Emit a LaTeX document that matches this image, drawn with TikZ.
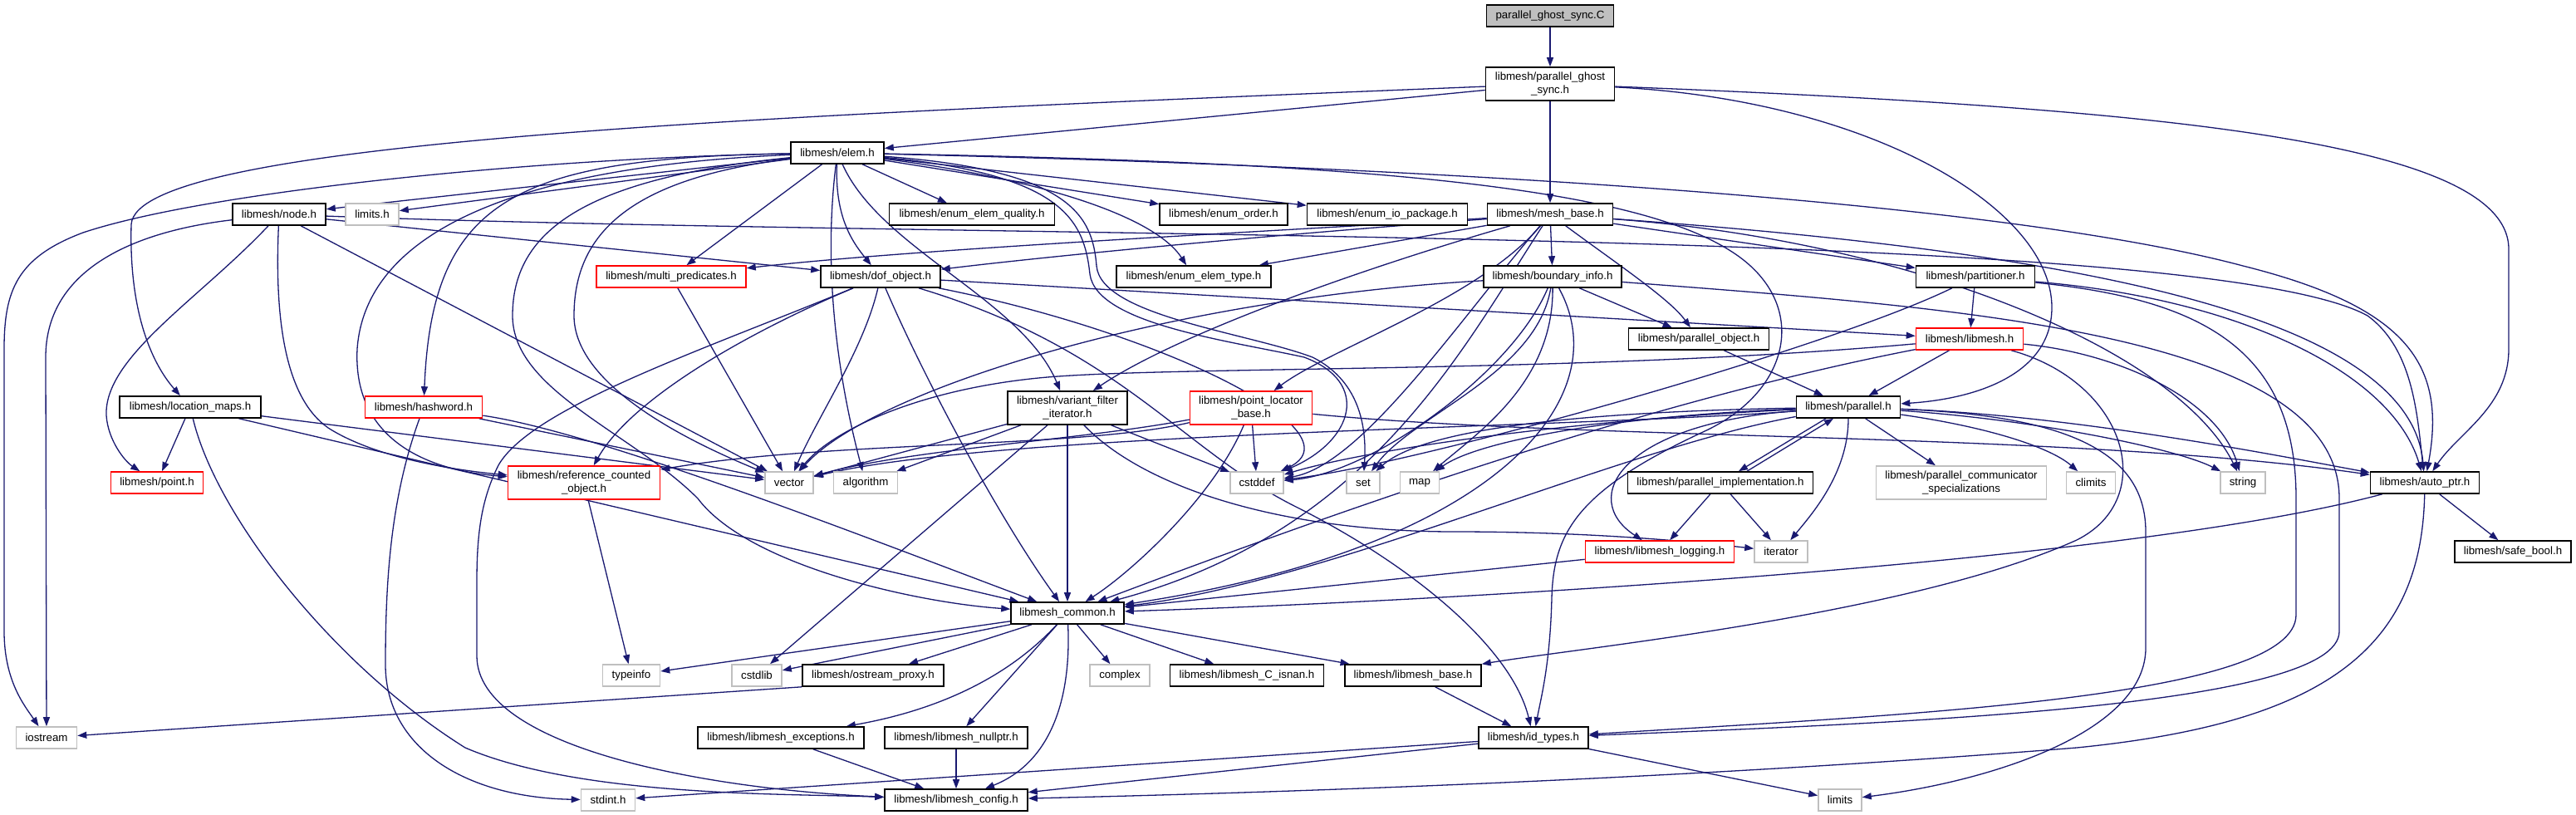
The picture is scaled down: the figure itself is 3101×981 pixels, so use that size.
\documentclass[tikz,border=0pt]{standalone}
\usepackage{fontspec}
\setmainfont{Liberation Sans}
\usetikzlibrary{arrows.meta}
\pgfdeclarelayer{bg}
\pgfsetlayers{bg,main}
\definecolor{edgec}{HTML}{191970}
\definecolor{sysgray}{HTML}{BFBFBF}
\definecolor{rootgray}{HTML}{BFBFBF}
\tikzset{
 nb/.style={draw, line width=1.6pt, fill=white, inner sep=0pt, minimum height=26pt, font=\fontsize{13.3}{15.5}\selectfont, text=black},
 bk/.style={nb, draw=black},
 rd/.style={nb, draw=red},
 gy/.style={nb, draw=sysgray},
 tl/.style={minimum height=40pt, align=center},
 dep/.style={draw=edgec, line width=1.3pt, -{Triangle[length=11pt,width=8pt]}},
}
\begin{document}
\begin{tikzpicture}[x=1pt,y=-1pt]
\useasboundingbox (0,0) rectangle (3101,981);
% nodes
\node[bk, fill=rootgray, minimum width=153pt] (root) at (1866,19) {parallel\_ghost\_sync.C};
\node[bk, tl, minimum width=155pt] (pgs) at (1866,101) {libmesh/parallel\_ghost\\\_sync.h};
\node[bk, minimum width=112pt] (elem) at (1008,184) {libmesh/elem.h};
\node[bk, minimum width=112pt] (node) at (336,258) {libmesh/node.h};
\node[gy, minimum width=64pt] (limitsh) at (448,258) {limits.h};
\node[bk, minimum width=199pt] (quality) at (1170,258) {libmesh/enum\_elem\_quality.h};
\node[bk, minimum width=154pt] (order) at (1473,258) {libmesh/enum\_order.h};
\node[bk, minimum width=193pt] (iopkg) at (1670,258) {libmesh/enum\_io\_package.h};
\node[bk, minimum width=151pt] (meshbase) at (1866,258) {libmesh/mesh\_base.h};
\node[rd, minimum width=180pt] (multipred) at (808,333) {libmesh/multi\_predicates.h};
\node[bk, minimum width=144pt] (dof) at (1060,333) {libmesh/dof\_object.h};
\node[bk, minimum width=186pt] (elemtype) at (1437,333) {libmesh/enum\_elem\_type.h};
\node[bk, minimum width=166pt] (boundary) at (1869,333) {libmesh/boundary\_info.h};
\node[bk, minimum width=143pt] (partitioner) at (2378,333) {libmesh/partitioner.h};
\node[bk, minimum width=169pt] (parobj) at (2045,408) {libmesh/parallel\_object.h};
\node[rd, minimum width=129pt] (libmeshh) at (2371,408) {libmesh/libmesh.h};
\node[bk, minimum width=170pt] (locmaps) at (229,490) {libmesh/location\_maps.h};
\node[rd, minimum width=141pt] (hashword) at (510,490) {libmesh/hashword.h};
\node[bk, tl, minimum width=144pt] (variant) at (1285,491) {libmesh/variant\_filter\\\_iterator.h};
\node[rd, tl, minimum width=147pt] (ptloc) at (1506,491) {libmesh/point\_locator\\\_base.h};
\node[bk, minimum width=125pt] (parallel) at (2225,490) {libmesh/parallel.h};
\node[rd, minimum width=111pt] (point) at (189,581) {libmesh/point.h};
\node[rd, tl, minimum width=183pt] (refcount) at (703,581) {libmesh/reference\_counted\\\_object.h};
\node[gy, minimum width=58pt] (vector) at (950,581) {vector};
\node[gy, minimum width=77pt] (algorithm) at (1042,581) {algorithm};
\node[gy, minimum width=64pt] (cstddef) at (1513,581) {cstddef};
\node[gy, minimum width=40pt] (set) at (1641,581) {set};
\node[gy, minimum width=47pt] (map) at (1709,581) {map};
\node[bk, minimum width=223pt] (parimpl) at (2071,581) {libmesh/parallel\_implementation.h};
\node[gy, tl, minimum width=205pt] (parcomm) at (2361,581) {libmesh/parallel\_communicator\\\_specializations};
\node[gy, minimum width=59pt] (climits) at (2517,581) {climits};
\node[gy, minimum width=54pt] (string) at (2700,581) {string};
\node[bk, minimum width=131pt] (autoptr) at (2919,581) {libmesh/auto\_ptr.h};
\node[rd, minimum width=179pt] (logging) at (1998,664) {libmesh/libmesh\_logging.h};
\node[gy, minimum width=64pt] (iterator) at (2144,664) {iterator};
\node[bk, minimum width=140pt] (safebool) at (3025,664) {libmesh/safe\_bool.h};
\node[bk, minimum width=136pt] (common) at (1285,738) {libmesh\_common.h};
\node[gy, minimum width=69pt] (typeinfo) at (760,813) {typeinfo};
\node[gy, minimum width=60pt] (cstdlib) at (911,813) {cstdlib};
\node[bk, minimum width=170pt] (ostream) at (1051,813) {libmesh/ostream\_proxy.h};
\node[gy, minimum width=72pt] (complex) at (1348,813) {complex};
\node[bk, minimum width=185pt] (isnan) at (1501,813) {libmesh/libmesh\_C\_isnan.h};
\node[bk, minimum width=164pt] (lmbase) at (1701,813) {libmesh/libmesh\_base.h};
\node[gy, minimum width=73pt] (iostream) at (56,888) {iostream};
\node[bk, minimum width=200pt] (exceptions) at (940,888) {libmesh/libmesh\_exceptions.h};
\node[bk, minimum width=172pt] (nullptr) at (1151,888) {libmesh/libmesh\_nullptr.h};
\node[bk, minimum width=132pt] (idtypes) at (1846,888) {libmesh/id\_types.h};
\node[gy, minimum width=65pt] (stdint) at (732,963) {stdint.h};
\node[bk, minimum width=172pt] (config) at (1151,963) {libmesh/libmesh\_config.h};
\node[gy, minimum width=52pt] (limits) at (2215,963) {limits};

\begin{pgfonlayer}{bg}
\fill[white] (0,0) rectangle (3101,981);
% root and parallel_ghost_sync.h
\draw[dep] (root) -- (pgs);
\draw[dep] (pgs) -- (elem);
\draw[dep] (pgs) .. controls (900,140) and (165,170) .. (158,270) .. controls (155,380) and (185,440) .. (locmaps);
\draw[dep] (pgs) -- (meshbase);
\draw[dep] (pgs) .. controls (2250,120) and (2470,250) .. (2470,370) .. controls (2470,450) and (2380,480) .. (parallel);
\draw[dep] (pgs) .. controls (2600,130) and (3020,170) .. (3020,300) -- (3020,420) .. controls (3020,490) and (2960,520) .. (autoptr);
% elem.h
\draw[dep] (elem) -- (node);
\draw[dep] (elem) -- (limitsh);
\draw[dep] (elem) .. controls (650,190) and (250,230) .. (100,280) .. controls (20,310) and (5,350) .. (5,420) -- (5,760) .. controls (5,820) and (30,850) .. (iostream);
\draw[dep] (elem) .. controls (620,190) and (520,240) .. (hashword);
\draw[dep] (elem) .. controls (620,200) and (440,280) .. (430,420) .. controls (425,520) and (500,565) .. (refcount);
\draw[dep] (elem) -- (multipred);
\draw[dep] (elem) .. controls (1005,260) and (1025,290) .. (dof);
\draw[dep] (elem) .. controls (760,215) and (691,280) .. (691,380) .. controls (691,470) and (850,540) .. (vector);
\draw[dep] (elem) .. controls (990,330) and (1010,460) .. (algorithm);
\draw[dep] (elem) .. controls (1060,300) and (1230,360) .. (variant);
\draw[dep] (elem) -- (quality);
\draw[dep] (elem) -- (order);
\draw[dep] (elem) -- (iopkg);
\draw[dep] (elem) .. controls (1250,215) and (1390,260) .. (elemtype);
\draw[dep] (elem) .. controls (1700,200) and (2400,240) .. (2700,320) .. controls (2900,370) and (2945,440) .. (autoptr);
\draw[dep] (elem) .. controls (1600,195) and (1950,220) .. (2080,300) .. controls (2180,360) and (2160,470) .. (2050,520) .. controls (1900,590) and (1870,640) .. (1868,720) .. controls (1866,800) and (1855,840) .. (idtypes);
\draw[dep] (elem) .. controls (1290,205) and (1315,260) .. (1320,320) .. controls (1325,380) and (1500,400) .. (1580,430) .. controls (1640,460) and (1645,520) .. (set);
\draw[dep] (elem) .. controls (1280,210) and (1305,265) .. (1312,330) .. controls (1320,390) and (1480,410) .. (1570,430) .. controls (1650,460) and (1630,530) .. (cstddef);
\draw[dep] (elem) .. controls (700,215) and (617,280) .. (617,380) .. controls (617,470) and (760,520) .. (840,600) .. controls (900,680) and (1100,725) .. (common);
% node.h
\draw[dep] (node) .. controls (240,360) and (125,430) .. (128,500) .. controls (130,530) and (150,555) .. (point);
\draw[dep] (node) -- (dof);
\draw[dep] (node) .. controls (330,390) and (345,480) .. (395,515) .. controls (450,550) and (540,565) .. (refcount);
\draw[dep] (node) .. controls (1200,290) and (2650,270) .. (2850,380) .. controls (2905,420) and (2910,500) .. (autoptr);
\draw[dep] (node) .. controls (150,280) and (55,330) .. (55,430) -- (iostream);
\draw[dep] (node) -- (vector);
% mesh_base.h
\draw[dep] (meshbase) .. controls (2450,300) and (2900,370) .. (autoptr);
\draw[dep] (meshbase) .. controls (2300,290) and (2620,420) .. (string);
\draw[dep] (meshbase) -- (partitioner);
\draw[dep] (meshbase) -- (boundary);
\draw[dep] (meshbase) .. controls (1950,320) and (2010,360) .. (parobj);
\draw[dep] (meshbase) .. controls (1780,360) and (1600,420) .. (ptloc);
\draw[dep] (meshbase) .. controls (1760,420) and (1650,640) .. (common);
\draw[dep] (meshbase) .. controls (1500,280) and (1100,300) .. (multipred);
\draw[dep] (meshbase) .. controls (1500,285) and (1250,310) .. (dof);
\draw[dep] (meshbase) -- (elemtype);
\draw[dep] (meshbase) .. controls (1650,320) and (1420,400) .. (variant);
\draw[dep] (meshbase) .. controls (1760,380) and (1640,560) .. (cstddef);
% boundary_info.h
\draw[dep] (boundary) .. controls (1400,360) and (1050,470) .. (vector);
\draw[dep] (boundary) -- (parobj);
\draw[dep] (boundary) .. controls (2350,370) and (2816,400) .. (2816,600) -- (2816,760) .. controls (2816,850) and (2300,870) .. (idtypes);
\draw[dep] (boundary) .. controls (1820,450) and (1650,570) .. (cstddef);
\draw[dep] (boundary) .. controls (1850,450) and (1700,500) .. (set);
\draw[dep] (boundary) .. controls (1870,460) and (1780,520) .. (map);
\draw[dep] (boundary) .. controls (1950,480) and (1800,660) .. (common);
% dof_object.h
\draw[dep] (dof) .. controls (900,400) and (760,480) .. (refcount);
\draw[dep] (dof) .. controls (850,420) and (640,490) .. (600,560) .. controls (580,600) and (574,640) .. (574,700) -- (574,790) .. controls (575,900) and (850,950) .. (config);
\draw[dep] (dof) .. controls (1040,420) and (985,500) .. (vector);
\draw[dep] (dof) .. controls (1110,450) and (1200,620) .. (common);
\draw[dep] (dof) .. controls (1400,400) and (1640,520) .. (cstddef);
\draw[dep] (dof) .. controls (1350,420) and (1420,540) .. (1560,610) .. controls (1700,680) and (1820,780) .. (idtypes);
\draw[dep] (dof) -- (libmeshh);
% location_maps.h
\draw[dep] (locmaps) -- (point);
\draw[dep] (locmaps) -- (vector);
\draw[dep] (locmaps) -- (common);
\draw[dep] (locmaps) .. controls (260,620) and (400,800) .. (560,900) .. controls (700,960) and (950,955) .. (config);
% hashword.h
\draw[dep] (hashword) .. controls (470,600) and (464,700) .. (464,800) .. controls (464,900) and (560,960) .. (stdint);
\draw[dep] (hashword) -- (vector);
\draw[dep] (hashword) .. controls (720,520) and (1050,650) .. (common);
% variant_filter_iterator.h
\draw[dep] (variant) -- (vector);
\draw[dep] (variant) -- (algorithm);
\draw[dep] (variant) -- (cstdlib);
\draw[dep] (variant) -- (common);
\draw[dep] (variant) .. controls (1380,590) and (1550,640) .. (1750,640) .. controls (1900,640) and (2020,650) .. (iterator);
\draw[dep] (variant) -- (cstddef);
% point_locator_base.h
\draw[dep] (ptloc) .. controls (1300,540) and (1000,530) .. (refcount);
\draw[dep] (ptloc) .. controls (1300,530) and (1100,540) .. (vector);
\draw[dep] (ptloc) .. controls (1460,600) and (1360,690) .. (common);
\draw[dep] (ptloc) -- (cstddef);
\draw[dep] (ptloc) .. controls (1900,530) and (2500,520) .. (autoptr);
% partitioner.h
\draw[dep] (partitioner) -- (libmeshh);
\draw[dep] (partitioner) .. controls (2700,360) and (2880,450) .. (autoptr);
\draw[dep] (partitioner) .. controls (2650,360) and (2764,420) .. (2764,600) -- (2764,740) .. controls (2764,840) and (2300,860) .. (idtypes);
\draw[dep] (partitioner) .. controls (2200,420) and (1700,560) .. (cstddef);
% libmesh.h
\draw[dep] (libmeshh) -- (parallel);
\draw[dep] (libmeshh) .. controls (1900,450) and (1400,440) .. (1250,455) .. controls (1100,470) and (1000,520) .. (vector);
\draw[dep] (libmeshh) .. controls (2550,425) and (2670,480) .. (string);
\draw[dep] (libmeshh) .. controls (2560,460) and (2600,600) .. (2500,650) .. controls (2300,740) and (1900,780) .. (lmbase);
\draw[dep] (libmeshh) .. controls (2000,480) and (1650,600) .. (common);
% parallel.h
\draw[dep] ([xshift=-27pt]parallel.south) -- ([xshift=22pt]parimpl.north);
\draw[dep] ([xshift=32pt]parimpl.north) -- ([xshift=-18pt]parallel.south);
\draw[dep] (parallel) -- (parcomm);
\draw[dep] (parallel) .. controls (2400,515) and (2470,540) .. (climits);
\draw[dep] (parallel) .. controls (2450,505) and (2620,540) .. (string);
\draw[dep] (parallel) .. controls (2500,500) and (2750,550) .. (autoptr);
\draw[dep] (parallel) .. controls (2480,500) and (2583,540) .. (2583,640) -- (2583,780) .. controls (2583,880) and (2400,940) .. (limits);
\draw[dep] (parallel) .. controls (2225,570) and (2180,620) .. (iterator);
\draw[dep] (parallel) .. controls (1950,510) and (1900,600) .. (logging);
\draw[dep] (parallel) .. controls (1950,495) and (1720,510) .. (set);
\draw[dep] (parallel) .. controls (1950,500) and (1780,530) .. (map);
\draw[dep] (parallel) .. controls (1900,515) and (1200,520) .. (vector);
\draw[dep] (parallel) .. controls (1900,505) and (1650,540) .. (cstddef);
\draw[dep] (parallel) .. controls (1950,540) and (1600,700) .. (common);
\draw[dep] (parobj) -- (parallel);
% parallel_implementation.h, logging
\draw[dep] (parimpl) -- (logging);
\draw[dep] (parimpl) -- (iterator);
\draw[dep] (logging) -- (common);
% auto_ptr.h
\draw[dep] (autoptr) -- (safebool);
\draw[dep] (autoptr) .. controls (2550,680) and (1700,725) .. (common);
\draw[dep] (autoptr) .. controls (2915,780) and (2800,870) .. (2500,900) .. controls (2000,940) and (1500,955) .. (config);
% libmesh_common.h
\draw[dep] (common) -- (typeinfo);
\draw[dep] (common) -- (cstdlib);
\draw[dep] (common) -- (ostream);
\draw[dep] (common) .. controls (1200,830) and (1100,860) .. (exceptions);
\draw[dep] (common) -- (nullptr);
\draw[dep] (common) .. controls (1290,850) and (1260,920) .. (config);
\draw[dep] (common) -- (complex);
\draw[dep] (common) -- (isnan);
\draw[dep] (common) -- (lmbase);
% lower levels
\draw[dep] (ostream.south west) -- (iostream);
\draw[dep] (exceptions) -- (config);
\draw[dep] (nullptr) -- (config);
\draw[dep] (lmbase) -- (idtypes);
\draw[dep] (idtypes) -- (stdint);
\draw[dep] (idtypes) -- (config);
\draw[dep] (idtypes) -- (limits);
\draw[dep] (refcount) -- (typeinfo);
\draw[dep] (multipred) -- (vector);
\end{pgfonlayer}
\end{tikzpicture}
\end{document}
